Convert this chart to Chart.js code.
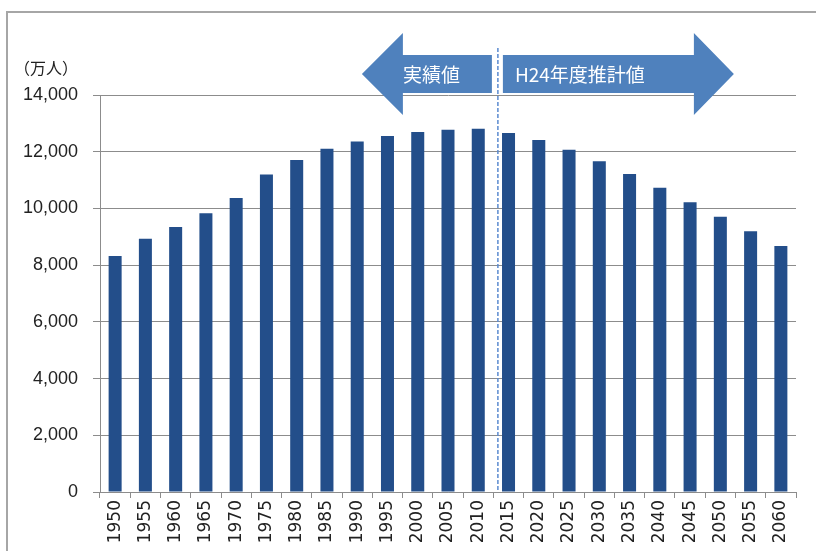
<!DOCTYPE html>
<html>
<head>
<meta charset="utf-8">
<script src="https://cdn.jsdelivr.net/npm/chart.js@4.4.1/dist/chart.umd.min.js"></script>
<style>
  html, body { margin: 0; padding: 0; background: #fff; }
  canvas { display: block; }
</style>
</head>
<body>
<canvas id="chart" width="816" height="551"></canvas>
<script>
// 年次（実績値 1950-2010, H24年度推計値 2015-2060）
const years = ["1950", "1955", "1960", "1965", "1970", "1975", "1980", "1985", "1990", "1995", "2000", "2005", "2010",
  "2015", "2020", "2025", "2030", "2035", "2040", "2045", "2050", "2055", "2060"];
// 総人口（万人）
const population = [8320, 8928, 9342, 9828, 10372, 11194, 11706, 12105, 12361, 12557, 12693, 12777, 12806,
  12660, 12410, 12066, 11662, 11212, 10728, 10221, 9708, 9193, 8674];
const yMin = 0;
const yMax = 14000;
const yStep = 2000;
const unitLabel = "（万人）";
const actualLabel = "実績値";
const forecastLabel = "H24年度推計値";
const lastActualIndex = 12;

const gray = "#8c8c8c";
const arrowBlue = "#4f81bd";

// 矢印を描く（dir: -1 = 左向き, 1 = 右向き）
function drawArrow(ctx, bodyStart, headBase, tip, cy) {
  const bh = 19, hh = 41;
  ctx.beginPath();
  ctx.moveTo(bodyStart, cy - bh);
  ctx.lineTo(headBase, cy - bh);
  ctx.lineTo(headBase, cy - hh);
  ctx.lineTo(tip, cy);
  ctx.lineTo(headBase, cy + hh);
  ctx.lineTo(headBase, cy + bh);
  ctx.lineTo(bodyStart, cy + bh);
  ctx.closePath();
  ctx.fillStyle = arrowBlue;
  ctx.fill();
}

const decor = {
  id: "decor",
  beforeDraw(chart) {
    const ctx = chart.ctx;
    ctx.save();
    // 外枠
    ctx.strokeStyle = "#a6a6a6";
    ctx.lineWidth = 2;
    ctx.strokeRect(7, 12, 900, 900);
    ctx.restore();
  },
  afterDraw(chart) {
    const ctx = chart.ctx;
    const xs = chart.scales.x;
    const area = chart.chartArea;
    ctx.save();

    // 単位
    ctx.fillStyle = "#222";
    ctx.font = "16px 'Noto Sans CJK JP'";
    ctx.textAlign = "left";
    ctx.textBaseline = "middle";
    ctx.fillText(unitLabel, 14, 68);

    // 実績値と推計値の境界（破線）
    const boundary = (xs.getPixelForValue(lastActualIndex) + xs.getPixelForValue(lastActualIndex + 1)) / 2 + 4.5;
    ctx.strokeStyle = "#5b8bd0";
    ctx.lineWidth = 1.5;
    ctx.setLineDash([4, 2]);
    ctx.beginPath();
    ctx.moveTo(boundary, 48);
    ctx.lineTo(boundary, area.bottom);
    ctx.stroke();
    ctx.setLineDash([]);

    // 矢印
    const cy = 74;
    drawArrow(ctx, boundary - 6, boundary - 95, boundary - 136, cy);
    drawArrow(ctx, boundary + 5, boundary + 196, boundary + 236, cy);

    ctx.fillStyle = "#fff";
    ctx.font = "19px 'Noto Sans CJK JP'";
    ctx.textAlign = "left";
    ctx.textBaseline = "middle";
    ctx.fillText(actualLabel, boundary - 95, cy + 1);
    ctx.fillText(forecastLabel, boundary + 17, cy + 1);
    ctx.restore();
  }
};

const ctx = document.getElementById("chart").getContext("2d");
new Chart(ctx, {
  type: "bar",
  data: {
    labels: years,
    datasets: [{
      data: population,
      backgroundColor: "#234e8a",
      borderWidth: 0,
      barPercentage: 0.43,
      categoryPercentage: 1.0
    }]
  },
  options: {
    responsive: false,
    animation: false,
    layout: { padding: { left: 0, top: 95, right: 20, bottom: 0 } },
    plugins: {
      legend: { display: false },
      tooltip: { enabled: false }
    },
    scales: {
      x: {
        grid: { offset: true, drawOnChartArea: false, drawTicks: true, tickLength: 6, color: gray },
        border: { display: true, color: gray, width: 1 },
        ticks: {
          autoSkip: false,
          minRotation: 90,
          maxRotation: 90,
          padding: 2,
          color: "#222",
          font: { family: "'DejaVu Sans'", size: 17 }
        },
        afterFit(scale) { scale.height = 59; }
      },
      y: {
        min: yMin,
        max: yMax,
        grid: { color: gray, lineWidth: 1, drawTicks: true, tickLength: 7 },
        border: { display: true, color: gray, width: 1 },
        ticks: {
          stepSize: yStep,
          padding: 15,
          color: "#222",
          font: { family: "'Liberation Sans'", size: 18 },
          callback: v => v.toLocaleString("en-US")
        },
        afterFit(scale) { scale.width = 100; }
      }
    }
  },
  plugins: [decor]
});
</script>
</body>
</html>
